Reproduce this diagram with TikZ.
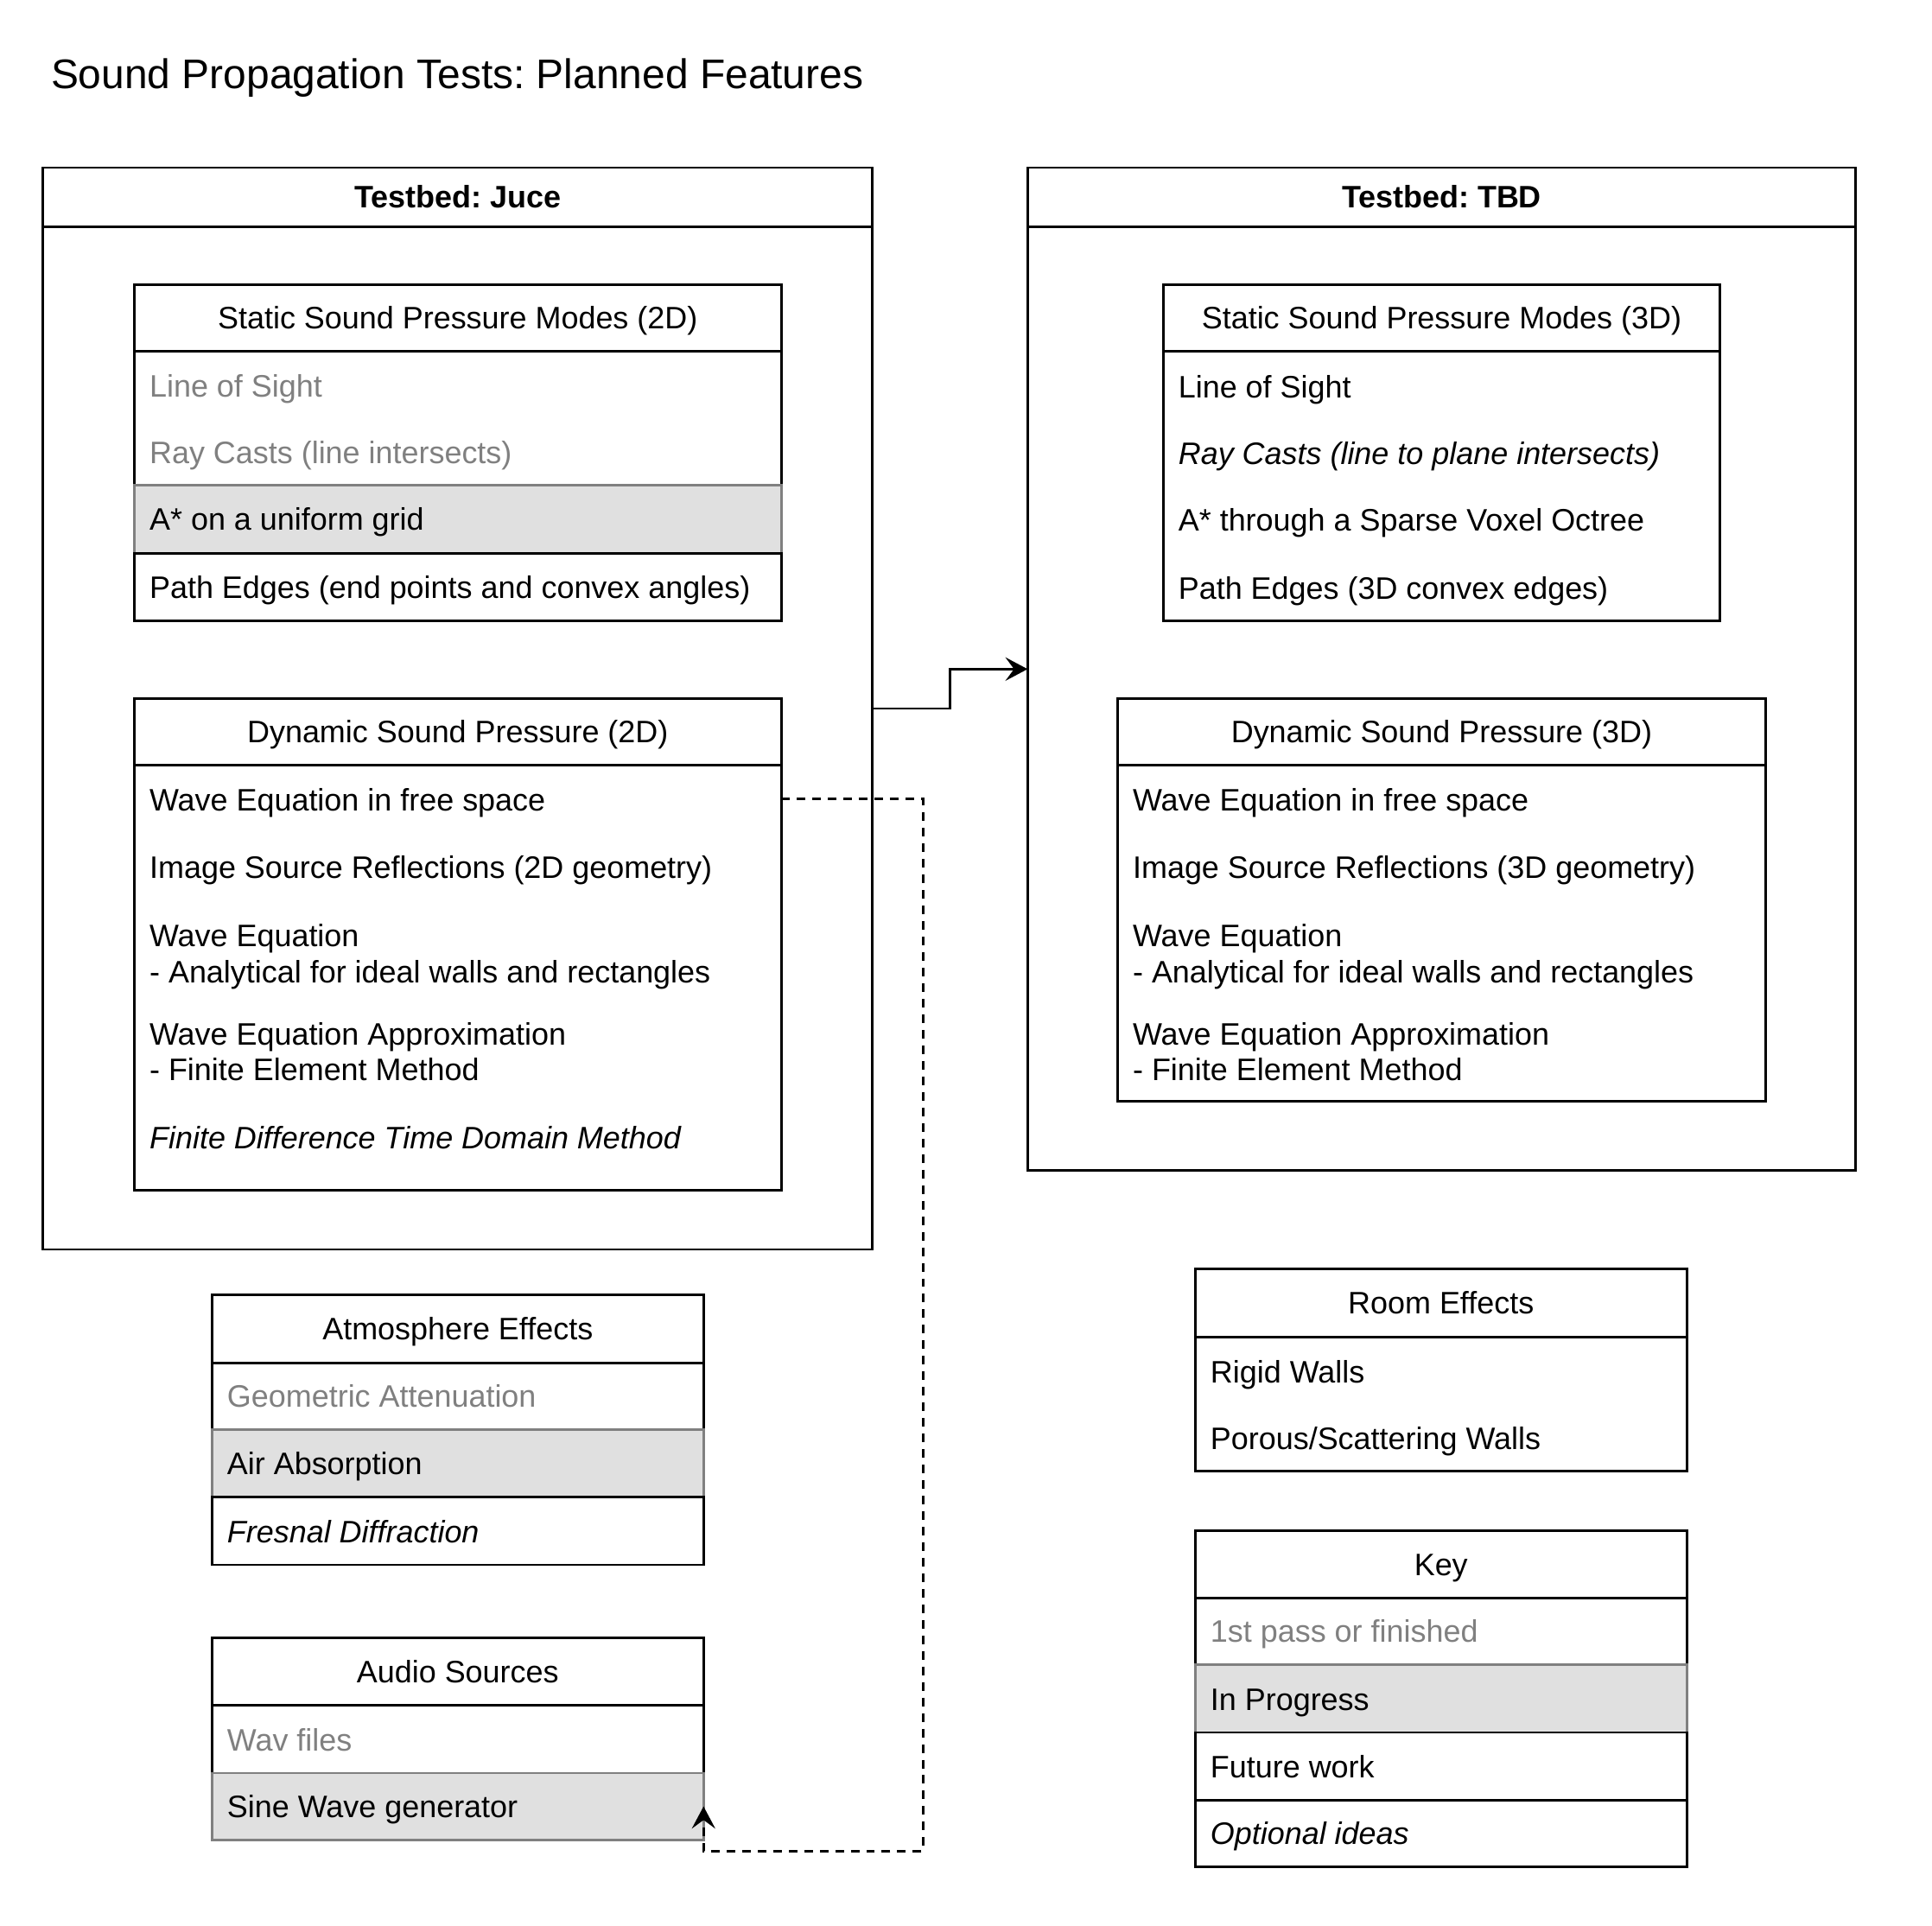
\documentclass[tikz,border=0pt]{standalone}
\usepackage{fontspec}
\setmainfont{Liberation Sans}
\usetikzlibrary{fit,arrows.meta,calc}
\definecolor{grayfill}{HTML}{E0E0E0}
\definecolor{graystroke}{HTML}{808080}
\definecolor{graytext}{HTML}{808080}
\begin{document}
\begin{tikzpicture}[x=0.5pt,y=-0.5pt,
  every node/.style={font=\fontsize{12.6}{15}\selectfont\frenchspacing},
  cell/.style={draw=black, line width=1pt, inner sep=0pt, outer sep=0pt, fill=white},
  cellgray/.style={draw=graystroke, line width=1pt, inner sep=0pt, outer sep=0pt, fill=grayfill},
  ghost/.style={inner sep=0pt, outer sep=0pt},
  item/.style={anchor=west, inner sep=0pt, text height=9pt, text depth=0pt},
  head/.style={anchor=center, inner sep=0pt, text height=9pt, text depth=0pt},
  boldhead/.style={head, font=\fontsize{12.6}{15}\selectfont\frenchspacing\bfseries},
  done/.style={item, text=graytext},
  idea/.style={item, font=\fontsize{12.6}{15}\selectfont\frenchspacing\itshape},
  conn/.style={line width=1pt, -{Stealth[length=9pt,width=9.5pt,inset=3.5pt]}},
]
\fill[white] (0,0) rectangle (1568,1562.4);
\useasboundingbox (0,0) rectangle (1568,1562.4);

% title
\node[anchor=west, inner sep=0pt, text height=12pt, text depth=0pt, font=\fontsize{16.8}{20}\selectfont\frenchspacing] (title) at (41,60) {Sound Propagation Tests: Planned Features};

% ---------- Testbed: Juce ----------
\node[cell, fit={(35,136)(708,1014)}] (juce) {};
\node[cell, fit={(35,136)(708,184)}] (juceh) {};
\node[boldhead] (jucet) at (juceh.center) {Testbed: Juce};

% Static 2D
\node[cell, fit={(109,231)(634,285)}] (s2h) {};
\node[head] (s2t) at (s2h.center) {Static Sound Pressure Modes (2D)};
\node[cell, fit={(109,285)(634,394)}] (s2a) {};
\node[done] (s2a1) at (121,313.5) {Line of Sight};
\node[done] (s2a2) at (121,367.5) {Ray Casts (line intersects)};
\node[cellgray, fit={(109,394)(634,449)}] (s2b) {};
\node[item] (s2bt) at (121,421.5) {A* on a uniform grid};
\node[cell, fit={(109,449)(634,504)}] (s2c) {};
\node[item] (s2ct) at (121,476.5) {Path Edges (end points and convex angles)};

% Dynamic 2D
\node[cell, fit={(109,567)(634,621)}] (d2h) {};
\node[head] (d2t) at (d2h.center) {Dynamic Sound Pressure (2D)};
\node[cell, fit={(109,621)(634,966)}] (d2) {};
\node[ghost, fit={(109,621)(634,676)}] (d2r1) {};
\node[item] (d2a) at (121,649) {Wave Equation in free space};
\node[item] (d2b) at (121,704) {Image Source Reflections (2D geometry)};
\node[item] (d2c) at (121,759) {Wave Equation};
\node[item] (d2d) at (121,789) {- Analytical for ideal walls and rectangles};
\node[item] (d2e) at (121,839) {Wave Equation Approximation};
\node[item] (d2f) at (121,868) {- Finite Element Method};
\node[idea] (d2g) at (121,923) {Finite Difference Time Domain Method};

% ---------- Testbed: TBD ----------
\node[cell, fit={(834,136)(1506,950)}] (tbd) {};
\node[cell, fit={(834,136)(1506,184)}] (tbdh) {};
\node[boldhead] (tbdt) at (tbdh.center) {Testbed: TBD};

% Static 3D
\node[cell, fit={(944,231)(1396,285)}] (s3h) {};
\node[head] (s3t) at (s3h.center) {Static Sound Pressure Modes (3D)};
\node[cell, fit={(944,285)(1396,504)}] (s3) {};
\node[item] (s3a) at (956,314) {Line of Sight};
\node[idea] (s3b) at (956,368) {Ray Casts (line to plane intersects)};
\node[item] (s3c) at (956,422) {A* through a Sparse Voxel Octree};
\node[item] (s3d) at (956,477) {Path Edges (3D convex edges)};

% Dynamic 3D
\node[cell, fit={(907,567)(1433,621)}] (d3h) {};
\node[head] (d3t) at (d3h.center) {Dynamic Sound Pressure (3D)};
\node[cell, fit={(907,621)(1433,894)}] (d3) {};
\node[item] (d3a) at (919,649) {Wave Equation in free space};
\node[item] (d3b) at (919,704) {Image Source Reflections (3D geometry)};
\node[item] (d3c) at (919,759) {Wave Equation};
\node[item] (d3d) at (919,789) {- Analytical for ideal walls and rectangles};
\node[item] (d3e) at (919,839) {Wave Equation Approximation};
\node[item] (d3f) at (919,868) {- Finite Element Method};

% ---------- Atmosphere Effects ----------
\node[cell, fit={(172,1051)(571,1106)}] (ath) {};
\node[head] (att) at (ath.center) {Atmosphere Effects};
\node[cell, fit={(172,1106)(571,1160)}] (ata) {};
\node[done] (atat) at (184,1133) {Geometric Attenuation};
\node[cellgray, fit={(172,1160)(571,1215)}] (atb) {};
\node[item] (atbt) at (184,1188) {Air Absorption};
\node[cell, fit={(172,1215)(571,1270)}] (atc) {};
\node[idea] (atct) at (184,1243) {Fresnal Diffraction};

% ---------- Audio Sources ----------
\node[cell, fit={(172,1329)(571,1384)}] (auh) {};
\node[head] (aut) at (auh.center) {Audio Sources};
\node[cell, fit={(172,1384)(571,1439)}] (aua) {};
\node[done] (auat) at (184,1412) {Wav files};
\node[cellgray, fit={(172,1439)(571,1493)}] (sine) {};
\node[item] (sinet) at (184,1466) {Sine Wave generator};

% ---------- Room Effects ----------
\node[cell, fit={(970,1030)(1369,1085)}] (roh) {};
\node[head] (rot) at (roh.center) {Room Effects};
\node[cell, fit={(970,1085)(1369,1194)}] (ro) {};
\node[item] (roa) at (982,1113) {Rigid Walls};
\node[item] (rob) at (982,1167) {Porous/Scattering Walls};

% ---------- Key ----------
\node[cell, fit={(970,1242)(1369,1297)}] (keyh) {};
\node[head] (keyt) at (keyh.center) {Key};
\node[cell, fit={(970,1297)(1369,1351)}] (ka) {};
\node[done] (kat) at (982,1324) {1st pass or finished};
\node[cellgray, fit={(970,1351)(1369,1406)}] (kb) {};
\node[item] (kbt) at (982,1379) {In Progress};
\node[cell, fit={(970,1406)(1369,1461)}] (kc) {};
\node[item] (kct) at (982,1434) {Future work};
\node[cell, fit={(970,1461)(1369,1515)}] (kd) {};
\node[idea] (kdt) at (982,1488) {Optional ideas};

% ---------- connectors ----------
\draw[conn] (juce.east) -| ($(juce.east)!0.5!(tbd.west)$) |- (tbd.west);
\coordinate (dbend) at (749,1502.5);
\draw[conn, dash pattern=on 3.5pt off 2.8pt] (d2r1.east) -| (dbend) -| (sine.east);
\end{tikzpicture}
\end{document}
